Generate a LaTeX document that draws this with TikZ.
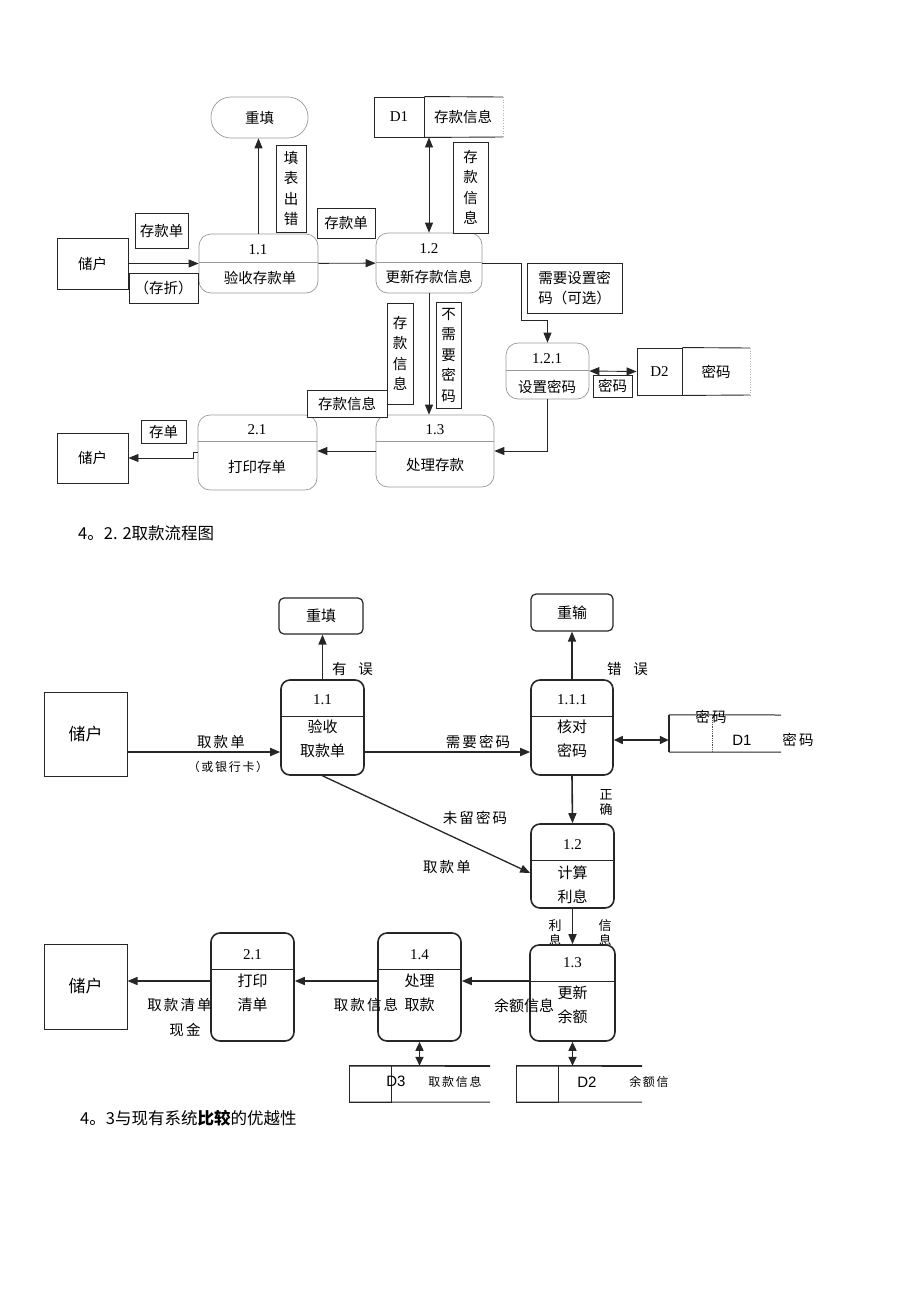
\documentclass[tikz,border=0pt]{standalone}
\usepackage{fontspec}
\setmainfont{Liberation Serif}
\newfontfamily\cjk{Noto Sans CJK SC}
\newfontfamily\arialf{Liberation Sans}
\usetikzlibrary{arrows.meta}
\newcommand\myT{\fontsize{14.5}{20.5}\selectfont\cjk}
\newcommand\myN{\fontsize{15}{18}\selectfont\rmfamily}
\newcommand\myB{\fontsize{15}{24}\selectfont\cjk}
\newcommand\mySp{\fontsize{14.5}{20}\selectfont\cjk\addfontfeature{LetterSpace=14}}
\newcommand\mySm{\fontsize{12}{14}\selectfont\cjk\addfontfeature{LetterSpace=14}}
\newcommand\myH{\fontsize{16.5}{20}\selectfont\cjk}
\begin{document}
\begin{tikzpicture}[x=1pt,y=-1pt,
 tproc/.style={draw=black!40, line width=0.7pt, rounded corners=12pt, fill=white, inner sep=0pt},
 tdiv/.style={draw=black!40, line width=0.7pt},
 tlab/.style={draw=black!85, line width=0.8pt, inner sep=0pt, align=center, font=\myT, fill=white},
 ttxt/.style={font=\myT, inner sep=0pt, align=center},
 tnum/.style={font=\myN, inner sep=0pt},
 tline/.style={draw=black!85, line width=0.9pt},
 arr/.style={tline, -{Triangle[length=10pt,width=8pt]}},
 darr/.style={tline, {Triangle[length=10pt,width=8pt]}-{Triangle[length=10pt,width=8pt]}},
 bproc/.style={draw=black!85, line width=1.6pt, rounded corners=9pt, fill=white, inner sep=0pt},
 bline/.style={draw=black!85, line width=1.6pt},
 bthin/.style={draw=black!85, line width=1pt},
 barr/.style={bline, -{Triangle[length=10pt,width=8pt]}},
 bdarr/.style={bline, {Triangle[length=9pt,width=8pt]}-{Triangle[length=9pt,width=8pt]}},
 btxt/.style={font=\myB, inner sep=0pt, align=center},
 blab/.style={font=\mySp, inner sep=0pt, align=center},
]
\useasboundingbox (0,0) rectangle (920,1302);
\fill[white] (0,0) rectangle (920,1302);

%================ TOP DIAGRAM =================
\node[tline, draw, minimum width=71pt, minimum height=51pt, font=\myT] (u1) at (92.5,263.5) {储户};
\node[tline, draw, minimum width=71pt, minimum height=50pt, font=\myT] (u2) at (92.5,458) {储户};
\node[tproc, rounded corners=20pt, minimum width=97pt, minimum height=41pt, font=\myT] (r1) at (259.5,117.5) {重填};

\node[tproc, minimum width=119pt, minimum height=59pt] (p11) at (258.5,263.5) {};
\draw[tdiv] (p11.west |- 0,262) -- (p11.east |- 0,262);
\node[tnum] (p11n) at (258,250) {1.1};
\node[ttxt] (p11t) at (260,278) {验收存款单};

\node[tproc, minimum width=106pt, minimum height=60pt] (p12) at (429,263) {};
\draw[tdiv] (p12.west |- 0,262) -- (p12.east |- 0,262);
\node[tnum] (p12n) at (429,249) {1.2};
\node[ttxt] (p12t) at (429,277) {更新存款信息};

\node[tproc, minimum width=83pt, minimum height=56pt] (p121) at (547.5,371) {};
\draw[tdiv] (p121.west |- 0,370) -- (p121.east |- 0,370);
\node[tnum] (p121n) at (547,359) {1.2.1};
\node[ttxt] (p121t) at (547,387) {设置密码};

\node[tproc, minimum width=118pt, minimum height=72pt] (p13) at (435,451) {};
\draw[tdiv] (p13.west |- 0,441) -- (p13.east |- 0,441);
\node[tnum] (p13n) at (435,430) {1.3};
\node[ttxt] (p13t) at (435,465) {处理存款};

\node[tproc, minimum width=119pt, minimum height=75pt] (p21) at (257.5,452.5) {};
\draw[tdiv] (p21.west |- 0,441) -- (p21.east |- 0,441);
\node[tnum] (p21n) at (257,430) {2.1};
\node[ttxt] (p21t) at (257,467) {打印存单};

\node[tline, draw, minimum width=50pt, minimum height=40pt, font=\myN, inner sep=0pt] (d1a) at (399,117) {D1};
\node[ttxt] (d1b) at (463,117) {存款信息};
\draw[tline] (d1a.north east) -- (503,97);
\draw[tline] (d1a.south east) -- (503,137);
\draw[black!30, line width=0.6pt, dotted] (503,97) -- (503,137);

\node[tline, draw, minimum width=45pt, minimum height=47pt, font=\myN, inner sep=0pt] (d2a) at (659.5,371.5) {D2};
\node[ttxt] (d2b) at (716,371.5) {密码};
\draw[tline] (d2a.north east) -- (750,348);
\draw[tline] (d2a.south east) -- (750,395);
\draw[black!30, line width=0.6pt, dotted] (750,348) -- (750,395);

\node[tlab, minimum width=53pt, minimum height=35pt] (l1) at (161.5,230.5) {存款单};
\node[tlab, minimum width=69pt, minimum height=30pt] (l2) at (163.5,288) {（存折）};
\node[tlab, minimum width=30pt, minimum height=87pt] (l3) at (291,188.5) {填\\表\\出\\错};
\node[tlab, minimum width=58pt, minimum height=30pt] (l4) at (346,223) {存款单};
\node[tlab, minimum width=35pt, minimum height=91pt] (l5) at (470.5,187.5) {存\\款\\信\\息};
\node[tlab, minimum width=95pt, minimum height=50pt, align=left] (l6) at (574.5,288) {需要设置密\\码（可选）};
\node[tlab, minimum width=39pt, minimum height=22pt] (l7) at (612.5,386) {密码};
\node[tlab, minimum width=25pt, minimum height=106pt] (l8) at (448.5,355) {不\\需\\要\\密\\码};
\node[tlab, minimum width=26pt, minimum height=101pt] (l9) at (400,353.5) {存\\款\\信\\息};
\node[tlab, minimum width=80pt, minimum height=27pt] (l10) at (347,403.5) {存款信息};
\node[tlab, minimum width=45pt, minimum height=23pt] (l11) at (163.5,431.5) {存单};

\draw[arr] (u1) -- (p11);
\draw[arr] (p11) -- (p12);
\draw[arr] (p11.north) -- (p11.north |- r1.south);
\draw[darr] (p12.north |- d1a.south) -- (p12.north);
\coordinate (c1) at (521,320);
\draw[arr] (p12.east) -| (c1) -| (p121.north);
\draw[darr] (p121.east) -- (d2a.west);
\draw[arr] (p121.south) |- (p13.east);
\draw[arr] (p12.south) -- (p12.south |- p13.north);
\draw[arr] (p13.west) -- (p13.west -| p21.east);
\coordinate (c2) at (193,452.5);
\draw[arr] (p21.west) -- (c2) |- (u2.east);

\node[anchor=west, font=\myH, inner sep=0pt] (h1) at (78,533) {4。2. 2取款流程图};

%================ BOTTOM DIAGRAM =================
\node[blab] (t1) at (221,742) {取款单};
\node[font=\mySm, inner sep=0pt] (t2) at (228,767) {（或银行卡）};
\node[blab] (t3) at (352.5,669) {有\hspace{12pt}误};
\node[blab] (t4) at (627.5,669) {错\hspace{12pt}误};
\node[blab] (t5) at (478,742) {需要密码};
\node[font=\fontsize{13}{15}\selectfont\cjk, inner sep=0pt, align=center] (t6) at (606,803) {正\\确};
\node[blab] (t7) at (475,818) {未留密码};
\node[blab] (t8) at (447,867) {取款单};
\node[font=\fontsize{13}{15}\selectfont\cjk, inner sep=0pt, align=center] (t9) at (555,933) {利\\息};
\node[font=\fontsize{13}{15}\selectfont\cjk, inner sep=0pt, align=center] (t10) at (605,933) {信\\息};

\node[bthin, draw, minimum width=83pt, minimum height=84pt, font=\fontsize{17}{20}\selectfont\cjk] (u3) at (85.5,734) {储户};
\node[bthin, draw, minimum width=83pt, minimum height=85pt, font=\fontsize{17}{20}\selectfont\cjk] (u4) at (85.5,986.5) {储户};

\node[bproc, rounded corners=5pt, line width=1.2pt, minimum width=84pt, minimum height=36pt, font=\myB] (rf2) at (321,616) {重填};
\node[bproc, rounded corners=5pt, line width=1.2pt, minimum width=82pt, minimum height=37pt, font=\myB] (rs) at (572,612.5) {重输};

\node[bproc, minimum width=83pt, minimum height=95pt] (q11) at (322.5,727.5) {};
\draw[bthin] (q11.west |- 0,716) -- (q11.east |- 0,716);
\node[tnum] (q11n) at (322.5,700) {1.1};
\node[btxt] (q11t) at (322.5,739) {验收\\取款单};

\node[bproc, minimum width=82pt, minimum height=95pt] (q111) at (572,727.5) {};
\draw[bthin] (q111.west |- 0,716) -- (q111.east |- 0,716);
\node[tnum] (q111n) at (572,700) {1.1.1};
\node[btxt] (q111t) at (572,739) {核对\\密码};

\node[bproc, minimum width=83pt, minimum height=84pt] (q12) at (572.5,866) {};
\draw[bthin] (q12.west |- 0,860) -- (q12.east |- 0,860);
\node[tnum] (q12n) at (572.5,845) {1.2};
\node[btxt] (q12t) at (572.5,885) {计算\\利息};

\node[bproc, minimum width=85pt, minimum height=96pt] (q13) at (572.5,993) {};
\draw[bthin] (q13.west |- 0,981) -- (q13.east |- 0,981);
\node[tnum] (q13n) at (572.5,963) {1.3};
\node[btxt] (q13t) at (572.5,1004.5) {更新\\余额};

\node[bproc, minimum width=83pt, minimum height=108pt] (q14) at (419.5,987) {};
\draw[bthin] (q14.west |- 0,969) -- (q14.east |- 0,969);
\node[tnum] (q14n) at (419.5,955) {1.4};
\node[btxt] (q14t) at (419.5,992.5) {处理\\取款};

\node[bproc, minimum width=83pt, minimum height=108pt] (q21) at (252.5,987) {};
\draw[bthin] (q21.west |- 0,969) -- (q21.east |- 0,969);
\node[tnum] (q21n) at (252.5,955) {2.1};
\node[btxt] (q21t) at (252.5,992.5) {打印\\清单};

\node[font=\myB, inner sep=0pt] (t11) at (524,1006) {余额信息};
\node[blab] (t12) at (366,1005) {取款信息};
\node[blab] (t13) at (179.5,1005) {取款清单};
\node[blab] (t14) at (185,1030) {现金};

\node[inner sep=0pt, minimum width=43pt, minimum height=37pt] (e1a) at (690.5,733.5) {};
\draw[bline] (e1a.north west) -- (e1a.south west);
\draw[bthin] (e1a.north west) -- (781,715);
\draw[bthin] (e1a.south west) -- (781,752);
\draw[black!70, line width=0.8pt, densely dotted] (e1a.north east) -- (e1a.south east);
\node[font=\fontsize{15}{18}\selectfont\arialf, inner sep=0pt] (e1n) at (742,740) {D1};
\node[blab] (e1t) at (711,717) {密码};
\node[blab] (e1r) at (798,740) {密码};

\node[inner sep=0pt, minimum width=41pt, minimum height=36pt] (e3a) at (370.5,1084) {};
\draw[bthin] (e3a.north west) rectangle (e3a.south east);
\draw[bline] (e3a.north west) -- (490,1066);
\draw[bthin] (e3a.south west) -- (490,1102);
\node[font=\fontsize{15}{18}\selectfont\arialf, inner sep=0pt] (e3n) at (396,1081) {D3};
\node[font=\mySm, inner sep=0pt] (e3t) at (455,1082) {取款信息};

\node[inner sep=0pt, minimum width=41pt, minimum height=36pt] (e2a) at (537.5,1084) {};
\draw[bthin] (e2a.north west) rectangle (e2a.south east);
\draw[bline] (e2a.north west) -- (642,1066);
\draw[bthin] (e2a.south west) -- (642,1102);
\node[font=\fontsize{15}{18}\selectfont\arialf, inner sep=0pt] (e2n) at (587,1082) {D2};
\node[font=\mySm, inner sep=0pt] (e2t) at (649,1082) {余额信};

\draw[barr] ([yshift=-18pt]u3.east) -- ([yshift=-24.5pt]q11.west);
\draw[barr] ([yshift=-24.5pt]q11.east) -- ([yshift=-24.5pt]q111.west);
\draw[barr] (q11.north) -- (q11.north |- rf2.south);
\draw[barr] (q111.north) -- (q111.north |- rs.south);
\draw[bdarr] ([yshift=-12.5pt]q111.east) -- ([yshift=-6.5pt]e1a.west);
\draw[barr] (q111.south) -- (q12.north);
\draw[bline, -{Triangle[length=10pt,width=8pt]}, line width=1.3pt] (q11.south) -- ([yshift=-7pt]q12.west);
\draw[barr] (q12.south) -- (q13.north);
\draw[barr] ([yshift=12pt]q13.west) -- ([yshift=6pt]q14.east);
\draw[barr] ([yshift=6pt]q14.west) -- ([yshift=6pt]q21.east);
\draw[barr] ([yshift=6pt]q21.west) -- ([yshift=5.5pt]u4.east);
\draw[bdarr] (q14.south) -- (q14.south |- e3a.north);
\draw[bdarr] (q13.south) -- (q13.south |- e2a.north);

\node[anchor=west, font=\myH, inner sep=0pt] (h2) at (80,1118) {4。3与现有系统\textbf{比较}的优越性};
\end{tikzpicture}
\end{document}
